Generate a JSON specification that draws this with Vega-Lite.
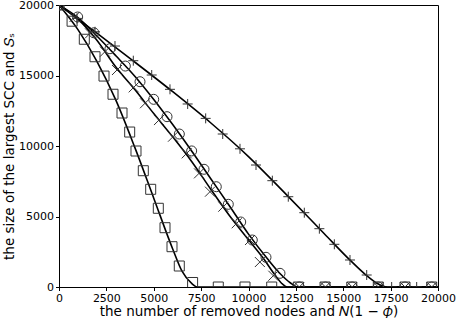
{
  "$schema": "https://vega.github.io/schema/vega-lite/v6.json",
  "width": 379,
  "height": 282,
  "autosize": {"type": "none"},
  "padding": {"left": 59, "top": 5, "right": 19, "bottom": 32},
  "background": "white",
  "datasets": {
    "theory": [
      {"s": "sq", "x": 0, "y": 20000}, {"s": "sq", "x": 1000, "y": 18250}, {"s": "sq", "x": 2000, "y": 16000}, {"s": "sq", "x": 3000, "y": 13250}, {"s": "sq", "x": 4000, "y": 9900}, {"s": "sq", "x": 5000, "y": 6300}, {"s": "sq", "x": 6000, "y": 2700}, {"s": "sq", "x": 6500, "y": 1100}, {"s": "sq", "x": 7000, "y": 250}, {"s": "sq", "x": 7300, "y": 0}, {"s": "sq", "x": 20000, "y": 0},
      {"s": "x", "x": 0, "y": 20000}, {"s": "x", "x": 1000, "y": 19000}, {"s": "x", "x": 2000, "y": 17500}, {"s": "x", "x": 3000, "y": 15600}, {"s": "x", "x": 4000, "y": 14000}, {"s": "x", "x": 5000, "y": 12300}, {"s": "x", "x": 6000, "y": 10650}, {"s": "x", "x": 7000, "y": 8900}, {"s": "x", "x": 8000, "y": 6950}, {"s": "x", "x": 9000, "y": 5050}, {"s": "x", "x": 10000, "y": 3350}, {"s": "x", "x": 10800, "y": 2000}, {"s": "x", "x": 11400, "y": 850}, {"s": "x", "x": 11800, "y": 200}, {"s": "x", "x": 12050, "y": 0}, {"s": "x", "x": 20000, "y": 0},
      {"s": "o", "x": 0, "y": 20000}, {"s": "o", "x": 1000, "y": 19100}, {"s": "o", "x": 2000, "y": 17800}, {"s": "o", "x": 3000, "y": 16400}, {"s": "o", "x": 4000, "y": 14950}, {"s": "o", "x": 5000, "y": 13300}, {"s": "o", "x": 6000, "y": 11520}, {"s": "o", "x": 7000, "y": 9650}, {"s": "o", "x": 8000, "y": 7700}, {"s": "o", "x": 9000, "y": 5750}, {"s": "o", "x": 10000, "y": 3750}, {"s": "o", "x": 11000, "y": 2000}, {"s": "o", "x": 11700, "y": 900}, {"s": "o", "x": 12200, "y": 300}, {"s": "o", "x": 12600, "y": 0}, {"s": "o", "x": 20000, "y": 0},
      {"s": "p", "x": 0, "y": 20000}, {"s": "p", "x": 2000, "y": 18000}, {"s": "p", "x": 4000, "y": 15950}, {"s": "p", "x": 6000, "y": 13850}, {"s": "p", "x": 8000, "y": 11650}, {"s": "p", "x": 10000, "y": 9250}, {"s": "p", "x": 12000, "y": 6550}, {"s": "p", "x": 14000, "y": 3780}, {"s": "p", "x": 15400, "y": 1850}, {"s": "p", "x": 16200, "y": 850}, {"s": "p", "x": 16800, "y": 250}, {"s": "p", "x": 17300, "y": 0}, {"s": "p", "x": 20000, "y": 0}
    ],
    "sim": [
      {"s": "sq", "x": 0, "y": 20000}, {"s": "sq", "x": 690, "y": 18850}, {"s": "sq", "x": 1335, "y": 17570}, {"s": "sq", "x": 1900, "y": 16330}, {"s": "sq", "x": 2375, "y": 14960}, {"s": "sq", "x": 2850, "y": 13670}, {"s": "sq", "x": 3325, "y": 12340}, {"s": "sq", "x": 3730, "y": 10990}, {"s": "sq", "x": 4063, "y": 9645}, {"s": "sq", "x": 4449, "y": 8248}, {"s": "sq", "x": 4839, "y": 6929}, {"s": "sq", "x": 5240, "y": 5582}, {"s": "sq", "x": 5594, "y": 4206}, {"s": "sq", "x": 5963, "y": 2858}, {"s": "sq", "x": 6348, "y": 1489}, {"s": "sq", "x": 7050, "y": 320}, {"s": "sq", "x": 8406, "y": 0}, {"s": "sq", "x": 9815, "y": 0}, {"s": "sq", "x": 11225, "y": 0}, {"s": "sq", "x": 12630, "y": 0}, {"s": "sq", "x": 14040, "y": 0}, {"s": "sq", "x": 15450, "y": 0}, {"s": "sq", "x": 16850, "y": 0}, {"s": "sq", "x": 18258, "y": 0}, {"s": "sq", "x": 19667, "y": 0},
      {"s": "o", "x": 0, "y": 20000}, {"s": "o", "x": 985, "y": 19150}, {"s": "o", "x": 1840, "y": 18030}, {"s": "o", "x": 2690, "y": 16900}, {"s": "o", "x": 3500, "y": 15670}, {"s": "o", "x": 4275, "y": 14560}, {"s": "o", "x": 4997, "y": 13310}, {"s": "o", "x": 5700, "y": 12080}, {"s": "o", "x": 6350, "y": 10850}, {"s": "o", "x": 7000, "y": 9650}, {"s": "o", "x": 7652, "y": 8348}, {"s": "o", "x": 8300, "y": 7113}, {"s": "o", "x": 8934, "y": 5865}, {"s": "o", "x": 9588, "y": 4610}, {"s": "o", "x": 10200, "y": 3333}, {"s": "o", "x": 10923, "y": 2106}, {"s": "o", "x": 11662, "y": 970}, {"s": "o", "x": 12680, "y": 0}, {"s": "o", "x": 14060, "y": 0}, {"s": "o", "x": 15470, "y": 0}, {"s": "o", "x": 16850, "y": 0}, {"s": "o", "x": 18258, "y": 0}, {"s": "o", "x": 19667, "y": 0},
      {"s": "x", "x": 0, "y": 20000}, {"s": "x", "x": 820, "y": 19150}, {"s": "x", "x": 1636, "y": 17990}, {"s": "x", "x": 2427, "y": 16690}, {"s": "x", "x": 3060, "y": 15390}, {"s": "x", "x": 3942, "y": 14160}, {"s": "x", "x": 4538, "y": 13030}, {"s": "x", "x": 5277, "y": 11840}, {"s": "x", "x": 6016, "y": 10660}, {"s": "x", "x": 6740, "y": 9480}, {"s": "x", "x": 7388, "y": 8060}, {"s": "x", "x": 7968, "y": 6760}, {"s": "x", "x": 8670, "y": 5695}, {"s": "x", "x": 9377, "y": 4520}, {"s": "x", "x": 10080, "y": 3333}, {"s": "x", "x": 10600, "y": 1770}, {"s": "x", "x": 11310, "y": 800}, {"s": "x", "x": 12680, "y": 0}, {"s": "x", "x": 14060, "y": 0}, {"s": "x", "x": 15470, "y": 0}, {"s": "x", "x": 16850, "y": 0}, {"s": "x", "x": 18258, "y": 0}, {"s": "x", "x": 19667, "y": 0},
      {"s": "p", "x": 0, "y": 20000}, {"s": "p", "x": 950, "y": 19050}, {"s": "p", "x": 1900, "y": 18100}, {"s": "p", "x": 2955, "y": 17090}, {"s": "p", "x": 3921, "y": 16050}, {"s": "p", "x": 4892, "y": 15035}, {"s": "p", "x": 5857, "y": 14020}, {"s": "p", "x": 6790, "y": 12980}, {"s": "p", "x": 7740, "y": 11960}, {"s": "p", "x": 8640, "y": 10850}, {"s": "p", "x": 9551, "y": 9800}, {"s": "p", "x": 10396, "y": 8652}, {"s": "p", "x": 11258, "y": 7540}, {"s": "p", "x": 12100, "y": 6404}, {"s": "p", "x": 12945, "y": 5270}, {"s": "p", "x": 13740, "y": 4135}, {"s": "p", "x": 14530, "y": 3028}, {"s": "p", "x": 15356, "y": 1915}, {"s": "p", "x": 16237, "y": 851}, {"s": "p", "x": 17555, "y": 0}, {"s": "p", "x": 18875, "y": 0}
    ]
  },
  "layer": [
    {
      "data": {"name": "theory"},
      "mark": {"type": "line", "color": "black", "strokeWidth": 1.6, "interpolate": "monotone", "clip": true},
      "encoding": {
        "x": {"field": "x", "type": "quantitative", "scale": {"domain": [0, 20000], "nice": false, "zero": false},
          "axis": {"values": [0, 2500, 5000, 7500, 10000, 12500, 15000, 17500, 20000], "format": "d", "labelFlush": false, "labelOverlap": false, "labelPadding": 1.5, "title": "the number of removed nodes and 𝑁(1 − 𝜙)", "titlePadding": 1.5}},
        "y": {"field": "y", "type": "quantitative", "scale": {"domain": [0, 20000], "nice": false},
          "axis": {"values": [0, 2500, 5000, 7500, 10000, 12500, 15000, 17500, 20000], "format": "d", "labelFlush": false, "labelOverlap": false, "title": "the size of the largest SCC and 𝑆ₛ", "titlePadding": 2}},
        "detail": {"field": "s", "type": "nominal"}
      }
    },
    {
      "data": {"name": "sim"},
      "mark": {"type": "point", "filled": false, "stroke": "#333333", "strokeWidth": 1, "size": 100, "clip": true, "opacity": 1},
      "encoding": {
        "x": {"field": "x", "type": "quantitative"},
        "y": {"field": "y", "type": "quantitative"},
        "shape": {"field": "s", "type": "nominal", "scale": {"domain": ["sq", "x", "o", "p"], "range": ["square", "M-1,-1L1,1M-1,1L1,-1", "circle", "M-1,0L1,0M0,-1L0,1"]}, "legend": null}
      }
    }
  ],
  "config": {
    "view": {"stroke": "black", "strokeWidth": 1},
    "axis": {"grid": false, "domainColor": "black", "tickColor": "black", "labelColor": "black", "titleColor": "black", "labelFont": "DejaVu Sans", "titleFont": "DejaVu Sans", "labelFontSize": 11, "titleFontSize": 13.5, "titleFontWeight": "normal", "tickSize": 3.5, "labelPadding": 2}
  }
}
